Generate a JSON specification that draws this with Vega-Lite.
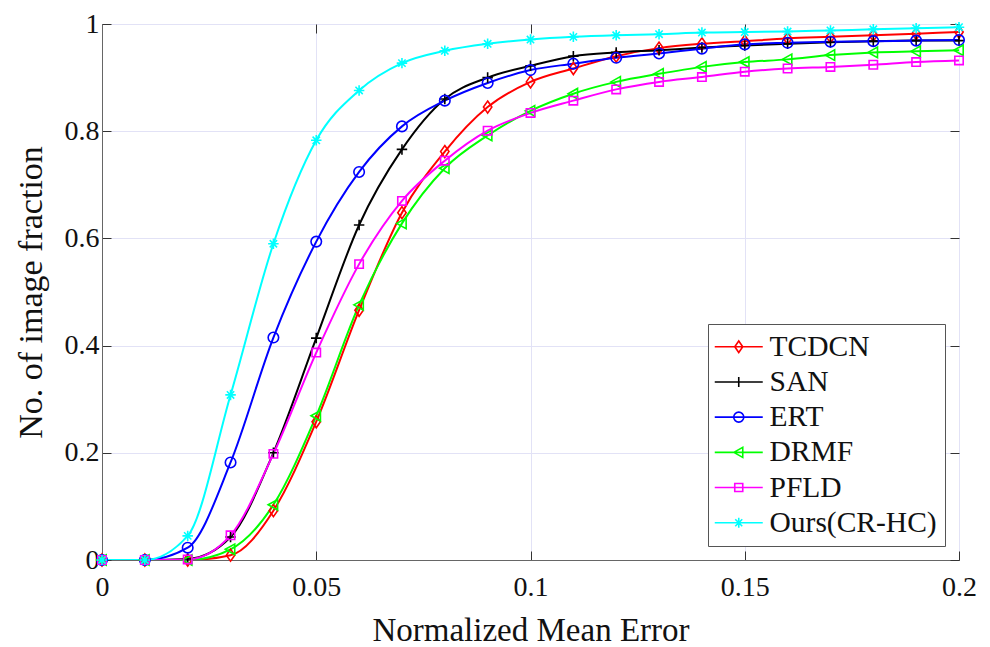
{
  "$schema": "https://vega.github.io/schema/vega-lite/v6.json",
  "width": 857,
  "height": 536,
  "autosize": "none",
  "padding": {"left": 102, "top": 24, "right": 31, "bottom": 87},
  "background": "white",
  "config": {
    "view": {"stroke": "#666666", "strokeWidth": 1},
    "font": "Liberation Serif, DejaVu Serif, serif",
    "axis": {
      "labelFont": "Liberation Serif, DejaVu Serif, serif",
      "titleFont": "Liberation Serif, DejaVu Serif, serif",
      "labelColor": "#111111",
      "titleColor": "#111111",
      "titleFontWeight": "normal",
      "domainColor": "#666666",
      "tickColor": "#333333",
      "gridColor": "#e2e2f6",
      "labelFlush": false,
      "labelOverlap": false
    },
    "legend": {"labelFont": "Liberation Serif, DejaVu Serif, serif"}
  },
  "datasets": {
    "roc": [
      {"m": "TCDCN", "x": 0, "y": 0}, {"m": "TCDCN", "x": 0.01, "y": 0}, {"m": "TCDCN", "x": 0.02, "y": 0}, {"m": "TCDCN", "x": 0.03, "y": 0.009}, {"m": "TCDCN", "x": 0.04, "y": 0.092}, {"m": "TCDCN", "x": 0.05, "y": 0.258}, {"m": "TCDCN", "x": 0.06, "y": 0.466}, {"m": "TCDCN", "x": 0.07, "y": 0.648}, {"m": "TCDCN", "x": 0.08, "y": 0.762}, {"m": "TCDCN", "x": 0.09, "y": 0.845}, {"m": "TCDCN", "x": 0.1, "y": 0.892}, {"m": "TCDCN", "x": 0.11, "y": 0.917}, {"m": "TCDCN", "x": 0.12, "y": 0.94}, {"m": "TCDCN", "x": 0.13, "y": 0.955}, {"m": "TCDCN", "x": 0.14, "y": 0.963}, {"m": "TCDCN", "x": 0.15, "y": 0.968}, {"m": "TCDCN", "x": 0.16, "y": 0.973}, {"m": "TCDCN", "x": 0.17, "y": 0.976}, {"m": "TCDCN", "x": 0.18, "y": 0.979}, {"m": "TCDCN", "x": 0.19, "y": 0.982}, {"m": "TCDCN", "x": 0.2, "y": 0.985},
      {"m": "SAN", "x": 0, "y": 0}, {"m": "SAN", "x": 0.01, "y": 0}, {"m": "SAN", "x": 0.02, "y": 0.002}, {"m": "SAN", "x": 0.03, "y": 0.043}, {"m": "SAN", "x": 0.04, "y": 0.2}, {"m": "SAN", "x": 0.05, "y": 0.414}, {"m": "SAN", "x": 0.06, "y": 0.625}, {"m": "SAN", "x": 0.07, "y": 0.766}, {"m": "SAN", "x": 0.08, "y": 0.86}, {"m": "SAN", "x": 0.09, "y": 0.9}, {"m": "SAN", "x": 0.1, "y": 0.922}, {"m": "SAN", "x": 0.11, "y": 0.94}, {"m": "SAN", "x": 0.12, "y": 0.947}, {"m": "SAN", "x": 0.13, "y": 0.951}, {"m": "SAN", "x": 0.14, "y": 0.956}, {"m": "SAN", "x": 0.15, "y": 0.96}, {"m": "SAN", "x": 0.16, "y": 0.963}, {"m": "SAN", "x": 0.17, "y": 0.966}, {"m": "SAN", "x": 0.18, "y": 0.968}, {"m": "SAN", "x": 0.19, "y": 0.969}, {"m": "SAN", "x": 0.2, "y": 0.969},
      {"m": "ERT", "x": 0, "y": 0}, {"m": "ERT", "x": 0.01, "y": 0}, {"m": "ERT", "x": 0.02, "y": 0.023}, {"m": "ERT", "x": 0.03, "y": 0.182}, {"m": "ERT", "x": 0.04, "y": 0.415}, {"m": "ERT", "x": 0.05, "y": 0.594}, {"m": "ERT", "x": 0.06, "y": 0.724}, {"m": "ERT", "x": 0.07, "y": 0.809}, {"m": "ERT", "x": 0.08, "y": 0.857}, {"m": "ERT", "x": 0.09, "y": 0.89}, {"m": "ERT", "x": 0.1, "y": 0.914}, {"m": "ERT", "x": 0.11, "y": 0.926}, {"m": "ERT", "x": 0.12, "y": 0.937}, {"m": "ERT", "x": 0.13, "y": 0.945}, {"m": "ERT", "x": 0.14, "y": 0.954}, {"m": "ERT", "x": 0.15, "y": 0.962}, {"m": "ERT", "x": 0.16, "y": 0.965}, {"m": "ERT", "x": 0.17, "y": 0.967}, {"m": "ERT", "x": 0.18, "y": 0.968}, {"m": "ERT", "x": 0.19, "y": 0.969}, {"m": "ERT", "x": 0.2, "y": 0.97},
      {"m": "DRMF", "x": 0, "y": 0}, {"m": "DRMF", "x": 0.01, "y": 0}, {"m": "DRMF", "x": 0.02, "y": 0}, {"m": "DRMF", "x": 0.03, "y": 0.02}, {"m": "DRMF", "x": 0.04, "y": 0.103}, {"m": "DRMF", "x": 0.05, "y": 0.269}, {"m": "DRMF", "x": 0.06, "y": 0.476}, {"m": "DRMF", "x": 0.07, "y": 0.628}, {"m": "DRMF", "x": 0.08, "y": 0.731}, {"m": "DRMF", "x": 0.09, "y": 0.792}, {"m": "DRMF", "x": 0.1, "y": 0.838}, {"m": "DRMF", "x": 0.11, "y": 0.87}, {"m": "DRMF", "x": 0.12, "y": 0.892}, {"m": "DRMF", "x": 0.13, "y": 0.907}, {"m": "DRMF", "x": 0.14, "y": 0.92}, {"m": "DRMF", "x": 0.15, "y": 0.929}, {"m": "DRMF", "x": 0.16, "y": 0.934}, {"m": "DRMF", "x": 0.17, "y": 0.942}, {"m": "DRMF", "x": 0.18, "y": 0.947}, {"m": "DRMF", "x": 0.19, "y": 0.949}, {"m": "DRMF", "x": 0.2, "y": 0.951},
      {"m": "PFLD", "x": 0, "y": 0}, {"m": "PFLD", "x": 0.01, "y": 0}, {"m": "PFLD", "x": 0.02, "y": 0.001}, {"m": "PFLD", "x": 0.03, "y": 0.046}, {"m": "PFLD", "x": 0.04, "y": 0.198}, {"m": "PFLD", "x": 0.05, "y": 0.387}, {"m": "PFLD", "x": 0.06, "y": 0.552}, {"m": "PFLD", "x": 0.07, "y": 0.67}, {"m": "PFLD", "x": 0.08, "y": 0.745}, {"m": "PFLD", "x": 0.09, "y": 0.801}, {"m": "PFLD", "x": 0.1, "y": 0.834}, {"m": "PFLD", "x": 0.11, "y": 0.857}, {"m": "PFLD", "x": 0.12, "y": 0.878}, {"m": "PFLD", "x": 0.13, "y": 0.892}, {"m": "PFLD", "x": 0.14, "y": 0.901}, {"m": "PFLD", "x": 0.15, "y": 0.911}, {"m": "PFLD", "x": 0.16, "y": 0.917}, {"m": "PFLD", "x": 0.17, "y": 0.92}, {"m": "PFLD", "x": 0.18, "y": 0.924}, {"m": "PFLD", "x": 0.19, "y": 0.929}, {"m": "PFLD", "x": 0.2, "y": 0.932},
      {"m": "Ours(CR-HC)", "x": 0, "y": 0}, {"m": "Ours(CR-HC)", "x": 0.01, "y": 0}, {"m": "Ours(CR-HC)", "x": 0.02, "y": 0.045}, {"m": "Ours(CR-HC)", "x": 0.03, "y": 0.308}, {"m": "Ours(CR-HC)", "x": 0.04, "y": 0.59}, {"m": "Ours(CR-HC)", "x": 0.05, "y": 0.783}, {"m": "Ours(CR-HC)", "x": 0.06, "y": 0.876}, {"m": "Ours(CR-HC)", "x": 0.07, "y": 0.927}, {"m": "Ours(CR-HC)", "x": 0.08, "y": 0.95}, {"m": "Ours(CR-HC)", "x": 0.09, "y": 0.963}, {"m": "Ours(CR-HC)", "x": 0.1, "y": 0.971}, {"m": "Ours(CR-HC)", "x": 0.11, "y": 0.976}, {"m": "Ours(CR-HC)", "x": 0.12, "y": 0.979}, {"m": "Ours(CR-HC)", "x": 0.13, "y": 0.981}, {"m": "Ours(CR-HC)", "x": 0.14, "y": 0.984}, {"m": "Ours(CR-HC)", "x": 0.15, "y": 0.985}, {"m": "Ours(CR-HC)", "x": 0.16, "y": 0.986}, {"m": "Ours(CR-HC)", "x": 0.17, "y": 0.988}, {"m": "Ours(CR-HC)", "x": 0.18, "y": 0.99}, {"m": "Ours(CR-HC)", "x": 0.19, "y": 0.992}, {"m": "Ours(CR-HC)", "x": 0.2, "y": 0.994}
    ]
  },
  "data": {"name": "roc"},
  "resolve": {
    "scale": {"shape": "independent", "color": "independent"},
    "axis": {"x": "independent", "y": "independent"}
  },
  "layer": [
    {
      "mark": {"type": "line", "strokeWidth": 2, "interpolate": "monotone", "clip": true},
      "encoding": {
        "x": {
          "field": "x", "type": "quantitative",
          "scale": {"domain": [0, 0.2], "nice": false, "zero": false},
          "axis": {
            "orient": "bottom", "values": [0, 0.05, 0.1, 0.15, 0.2], "format": "~g",
            "title": "Normalized Mean Error", "titleFontSize": 33, "titlePadding": 13,
            "labelFontSize": 28, "labelPadding": 22, "tickSize": -9, "grid": true
          }
        },
        "y": {
          "field": "y", "type": "quantitative",
          "scale": {"domain": [0, 1], "nice": false},
          "axis": {
            "orient": "left", "values": [0, 0.2, 0.4, 0.6, 0.8, 1], "format": "~g",
            "title": "No. of image fraction", "titleFontSize": 34, "titlePadding": 16,
            "labelFontSize": 28, "labelPadding": 12, "tickSize": -9, "grid": true
          }
        },
        "color": {
          "field": "m", "type": "nominal",
          "scale": {
            "domain": ["TCDCN", "SAN", "ERT", "DRMF", "PFLD", "Ours(CR-HC)"],
            "range": ["#ff0000", "#000000", "#0000ff", "#00ff00", "#ff00ff", "#00ffff"]
          },
          "legend": null
        }
      }
    },
    {
      "mark": {"type": "point", "filled": false, "strokeWidth": 1.6, "size": 110, "opacity": 1, "clip": false},
      "encoding": {
        "x": {
          "field": "x", "type": "quantitative",
          "axis": {"orient": "top", "values": [0, 0.05, 0.1, 0.15, 0.2], "labels": false, "title": null, "tickSize": -9, "grid": false, "domain": false}
        },
        "y": {
          "field": "y", "type": "quantitative",
          "axis": {"orient": "right", "values": [0, 0.2, 0.4, 0.6, 0.8, 1], "labels": false, "title": null, "tickSize": -9, "grid": false, "domain": false}
        },
        "color": {
          "field": "m", "type": "nominal",
          "scale": {
            "domain": ["TCDCN", "SAN", "ERT", "DRMF", "PFLD", "Ours(CR-HC)"],
            "range": ["#ff0000", "#000000", "#0000ff", "#00ff00", "#ff00ff", "#00ffff"]
          },
          "legend": null
        },
        "shape": {
          "field": "m", "type": "nominal",
          "scale": {
            "domain": ["TCDCN", "SAN", "ERT", "DRMF", "PFLD", "Ours(CR-HC)"],
            "range": [
              "M0,-1.15L0.8,0L0,1.15L-0.8,0Z",
              "M-1,0L1,0M0,-1L0,1",
              "M1,0A1,1 0 1,1 -1,0A1,1 0 1,1 1,0Z",
              "M-1,0L0.8,-1L0.8,1Z",
              "M-0.8,-0.8L0.8,-0.8L0.8,0.8L-0.8,0.8Z",
              "M-1,0L1,0M0,-1L0,1M-0.7,-0.7L0.7,0.7M-0.7,0.7L0.7,-0.7"
            ]
          },
          "legend": null
        }
      }
    },
    {
      "mark": {"type": "point", "filled": false, "strokeWidth": 1.6, "size": 100, "opacity": 0},
      "encoding": {
        "x": {"field": "x", "type": "quantitative", "axis": null},
        "y": {"field": "y", "type": "quantitative", "axis": null},
        "color": {
          "field": "m", "type": "nominal",
          "scale": {
            "domain": ["TCDCN", "SAN", "ERT", "DRMF", "PFLD", "Ours(CR-HC)"],
            "range": ["#ff0000", "#000000", "#0000ff", "#00ff00", "#ff00ff", "#00ffff"]
          },
          "legend": {
            "title": null,
            "orient": "bottom-right",
            "offset": 14,
            "fillColor": "white",
            "strokeColor": "#555555",
            "padding": 8,
            "rowPadding": 4.2,
            "symbolSize": 100,
            "symbolStrokeWidth": 1.6,
            "symbolOpacity": 1,
            "symbolOffset": 8,
            "labelOffset": 16,
            "labelFontSize": 29.5,
            "labelColor": "#111111",
            "labelLimit": 300
          }
        },
        "shape": {
          "field": "m", "type": "nominal",
          "scale": {
            "domain": ["TCDCN", "SAN", "ERT", "DRMF", "PFLD", "Ours(CR-HC)"],
            "range": [
              "M-4.8,0L4.8,0M0,-1.15L0.8,0L0,1.15L-0.8,0Z",
              "M-4.8,0L4.8,0M0,-1L0,1",
              "M-4.8,0L4.8,0M1,0A1,1 0 1,1 -1,0A1,1 0 1,1 1,0Z",
              "M-4.8,0L4.8,0M-1,0L0.8,-1L0.8,1Z",
              "M-4.8,0L4.8,0M-0.8,-0.8L0.8,-0.8L0.8,0.8L-0.8,0.8Z",
              "M-4.8,0L4.8,0M-1,0L1,0M0,-1L0,1M-0.7,-0.7L0.7,0.7M-0.7,0.7L0.7,-0.7"
            ]
          },
          "legend": {
            "title": null,
            "orient": "bottom-right",
            "offset": 14,
            "fillColor": "white",
            "strokeColor": "#555555",
            "padding": 8,
            "rowPadding": 4.2,
            "symbolSize": 100,
            "symbolStrokeWidth": 1.6,
            "symbolOpacity": 1,
            "symbolOffset": 8,
            "labelOffset": 16,
            "labelFontSize": 29.5,
            "labelColor": "#111111",
            "labelLimit": 300
          }
        }
      }
    }
  ]
}
